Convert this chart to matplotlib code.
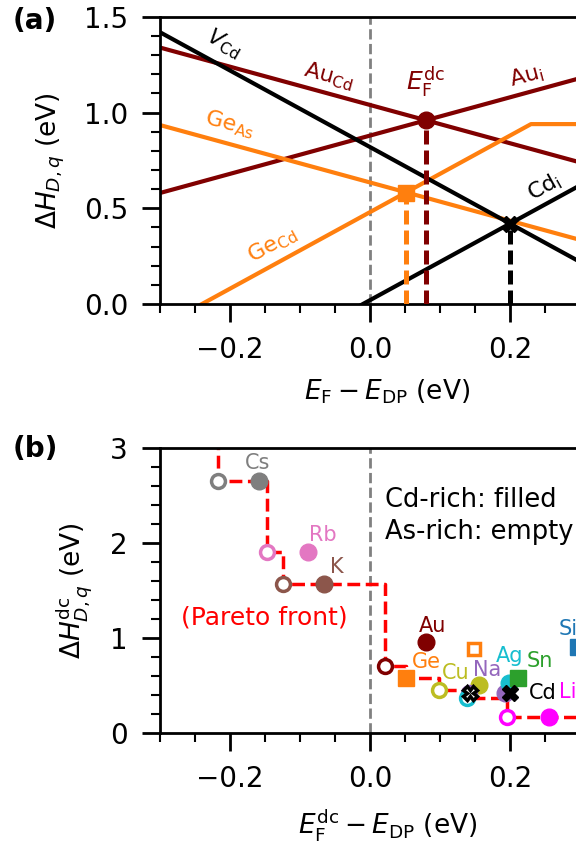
import numpy as np
import matplotlib
matplotlib.use("Agg")
import matplotlib.pyplot as plt
from matplotlib.ticker import MultipleLocator

# panel (a): formation energy lines of each defect (eV) vs E_F - E_DP (eV)
ef_ends = [-0.30, 0.35]
v_cd = [1.42, 0.12]
cd_i = [-0.58, 0.72]
au_cd = [1.34, 0.69]
au_i = [0.58, 1.23]
ge_as = [0.935, 0.285]
ge_cd_x = [-0.30, 0.23, 0.35]
ge_cd_y = [-0.12, 0.94, 0.94]

# pinned Fermi levels and energies for Au, Ge, Cd
pin_names = ["Au", "Ge", "Cd"]
pin_ef = [0.08, 0.052, 0.20]
pin_dh = [0.96, 0.58, 0.42]

# panel (b): dopants, Cd-rich (filled) and As-rich (empty)
dop_names = ["Cs", "Rb", "K", "Au", "Ge", "Cu", "Na", "Ag", "Sn", "Cd", "Li", "Si"]
dop_colors = ["#7f7f7f", "#e377c2", "#8c564b", "#800000", "#ff7f0e", "#bcbd22",
              "#9467bd", "#17becf", "#2ca02c", "black", "#ff00ff", "#1f77b4"]
dop_markers = ["o", "o", "o", "o", "s", "o", "o", "o", "s", "X", "o", "s"]
cdrich_ef = [-0.159, -0.088, -0.066, 0.08, 0.052, 0.156, 0.193, 0.198, 0.212, 0.20, 0.255, 0.297]
cdrich_dh = [2.65, 1.90, 1.565, 0.96, 0.58, 0.505, 0.42, 0.53, 0.575, 0.42, 0.172, 0.91]
asrich_ef = [-0.217, -0.147, -0.124, 0.0214, 0.148, 0.098, 0.141, 0.138, None, 0.143, 0.196, None]
asrich_dh = [2.65, 1.90, 1.565, 0.705, 0.884, 0.45, 0.42, 0.365, None, 0.42, 0.172, None]
label_x = [-0.160, -0.067, -0.048, 0.090, 0.080, 0.122, 0.168, 0.199, 0.243, 0.247, 0.270, 0.270]
label_y = [2.84, 2.08, 1.75, 1.13, 0.75, 0.63, 0.66, 0.81, 0.76, 0.42, 0.43, 1.09]

# Pareto front through the lowest points
pareto_ef = [-0.217, -0.217, -0.147, -0.124, 0.0214, 0.052, 0.098, 0.138, 0.196, 0.40]
pareto_dh = [3.50, 2.65, 1.90, 1.565, 0.705, 0.58, 0.45, 0.365, 0.172, 0.172]

au_col = "#800000"
ge_col = "#ff7f0e"

plt.rcParams["font.size"] = 20
plt.rcParams["axes.linewidth"] = 2

fig = plt.figure(figsize=(5.76, 8.51), dpi=100)
ax_w = 0.65 * 700 / 576
ax1 = fig.add_axes([0.2778, 0.6428, ax_w, 0.3373])
ax2 = fig.add_axes([0.2778, 0.1387, ax_w, 0.3349])

for ax in (ax1, ax2):
    ax.axvline(0, color="gray", ls="--", lw=2, zorder=1)
    ax.set_xlim(-0.3, 0.35)
    ax.xaxis.set_major_locator(MultipleLocator(0.2))
    ax.xaxis.set_minor_locator(MultipleLocator(0.05))
    ax.tick_params(which="major", length=13, width=2, labelsize=20, pad=10)
    ax.tick_params(which="minor", length=6.5, width=1.5)

# ---- (a)
ax1.plot(ef_ends, au_cd, color=au_col, lw=3)
ax1.plot(ef_ends, au_i, color=au_col, lw=3)
ax1.plot(ef_ends, ge_as, color=ge_col, lw=3)
ax1.plot(ge_cd_x, ge_cd_y, color=ge_col, lw=3)
ax1.plot(ef_ends, v_cd, color="black", lw=3)
ax1.plot(ef_ends, cd_i, color="black", lw=3)

pin_cols = [au_col, ge_col, "black"]
pin_marks = ["o", "s", "X"]
for e, h, c, m in zip(pin_ef, pin_dh, pin_cols, pin_marks):
    ax1.plot([e, e], [0, h], color=c, ls="--", dashes=(2.8, 1.2), lw=3.6, zorder=3)
    ax1.plot(e, h, marker=m, color=c, ms=12, zorder=4)

ax1.set_ylim(0, 1.5)
ax1.yaxis.set_major_locator(MultipleLocator(0.5))
ax1.yaxis.set_minor_locator(MultipleLocator(0.1))
ax1.set_xlabel(r"$E_\mathrm{F} - E_\mathrm{DP}$ (eV)", fontsize=19, labelpad=10)
ax1.set_ylabel(r"$\Delta H_{D,q}$ (eV)", fontsize=19, labelpad=12)

lab = dict(fontsize=16, ha="center", va="center")
ax1.text(-0.209, 1.36, r"$V_\mathrm{Cd}$", color="black", rotation=-29, **lab)
ax1.text(-0.059, 1.19, r"Au$_\mathrm{Cd}$", color=au_col, rotation=-15, **lab)
ax1.text(0.080, 1.16, r"$E_\mathrm{F}^\mathrm{dc}$", color=au_col, fontsize=18,
         ha="center", va="center")
ax1.text(0.223, 1.19, r"Au$_\mathrm{i}$", color=au_col, rotation=15, **lab)
ax1.text(-0.200, 0.94, r"Ge$_\mathrm{As}$", color=ge_col, rotation=-15, **lab)
ax1.text(-0.140, 0.31, r"Ge$_\mathrm{Cd}$", color=ge_col, rotation=29, **lab)
ax1.text(0.249, 0.61, r"Cd$_\mathrm{i}$", color="black", rotation=29, **lab)

# ---- (b)
ax2.plot(pareto_ef, pareto_dh, color="red", ls="--", lw=2.5,
         drawstyle="steps-post", zorder=2)
for i, name in enumerate(dop_names):
    c = dop_colors[i]
    m = dop_markers[i]
    ms = 12 if m != "s" else 11
    if asrich_ef[i] is not None:
        ax2.plot(asrich_ef[i], asrich_dh[i], marker=m, ls="none", ms=ms - 2,
                 mfc="white", mec=c, mew=2.5, zorder=3 + i * 0.1)
    ax2.plot(cdrich_ef[i], cdrich_dh[i], marker=m, ls="none", ms=ms,
             color=c, zorder=3 + i * 0.1)
    ha = "left" if name in ("Li", "Si") else "center"
    ax2.text(label_x[i], label_y[i], name, color=c, fontsize=15,
             ha=ha, va="center", zorder=5)

ax2.text(0.022, 2.28, "Cd-rich: filled\nAs-rich: empty", fontsize=18.5,
         ha="left", va="center", linespacing=1.3)
ax2.text(-0.27, 1.22, "(Pareto front)", color="red", fontsize=18,
         ha="left", va="center")

ax2.set_ylim(0, 3)
ax2.yaxis.set_major_locator(MultipleLocator(1))
ax2.yaxis.set_minor_locator(MultipleLocator(0.2))
ax2.set_xlabel(r"$E_\mathrm{F}^\mathrm{dc} - E_\mathrm{DP}$ (eV)", fontsize=19, labelpad=10)
ax2.set_ylabel(r"$\Delta H^\mathrm{dc}_{D,q}$ (eV)", fontsize=19, labelpad=12)

fig.text(0.0226, 0.992, "(a)", fontsize=20, fontweight="bold", va="top")
fig.text(0.0226, 0.489, "(b)", fontsize=20, fontweight="bold", va="top")

fig.savefig("out.png", dpi=100)
